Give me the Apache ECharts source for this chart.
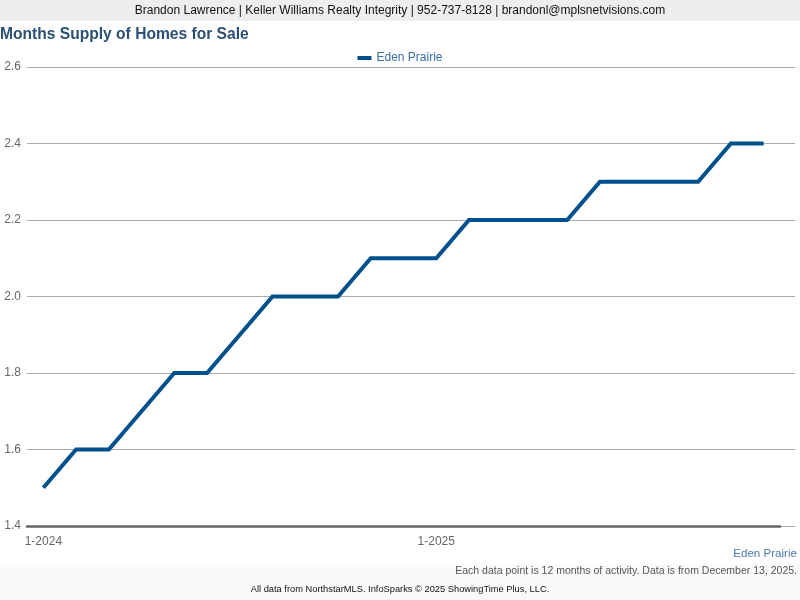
<!DOCTYPE html>
<html><head><meta charset="utf-8">
<script src="https://cdn.jsdelivr.net/npm/echarts@6/dist/echarts.min.js"></script>
<style>html,body{margin:0;padding:0;background:#fff}#c{width:800px;height:600px}</style>
</head><body><div id="c"></div>
<script>
const categories = ["1-2024","2-2024","3-2024","4-2024","5-2024","6-2024","7-2024","8-2024","9-2024","10-2024","11-2024","12-2024",
  "1-2025","2-2025","3-2025","4-2025","5-2025","6-2025","7-2025","8-2025","9-2025","10-2025","11-2025"];
const edenPrairie = [1.5,1.6,1.6,1.7,1.8,1.8,1.9,2.0,2.0,2.0,2.1,2.1,2.1,2.2,2.2,2.2,2.2,2.3,2.3,2.3,2.3,2.4,2.4];
const yTicks = {min:1.4, max:2.6, interval:0.2};
const FONT = '"Liberation Sans", Arial, sans-serif';

const chart = echarts.init(document.getElementById('c'), null, {renderer:'canvas'});
const showLabel = (i) => i % 12 === 0;
chart.setOption({
  animation:false,
  textStyle:{fontFamily:FONT},
  graphic:[
    {type:'rect', left:0, top:0, z:-10, shape:{width:800, height:21}, style:{fill:'#eeeeee'}},
    {type:'rect', left:0, top:564, z:-10, shape:{width:800, height:36}, style:{fill:'#fafafa'}},
    {type:'text', left:'center', top:5, style:{text:'Brandon Lawrence | Keller Williams Realty Integrity | 952-737-8128 | brandonl@mplsnetvisions.com', font:'12px '+FONT, fill:'#111'}},
    {type:'text', left:0, top:27, style:{text:'Months Supply of Homes for Sale', font:'bold 15.6px '+FONT, fill:'#2c4f74'}},
    {type:'text', right:3, top:548, style:{text:'Eden Prairie', font:'11.6px '+FONT, fill:'#4a78aa'}},
    {type:'text', right:3, top:566, style:{text:'Each data point is 12 months of activity. Data is from December 13, 2025.', font:'10.5px '+FONT, fill:'#555'}},
    {type:'text', left:'center', top:585, style:{text:'All data from NorthstarMLS. InfoSparks \u00a9 2025 ShowingTime Plus, LLC.', font:'9.3px '+FONT, fill:'#111'}}
  ],
  legend:{top:47, left:'center', icon:'rect', itemWidth:14, itemHeight:4, itemGap:5,
    textStyle:{color:'#3a6ea5', fontSize:12, fontFamily:FONT}, data:['Eden Prairie']},
  grid:[
    {left:27, right:5, top:67, bottom:74},
    {left:27, right:20, top:67, bottom:74}
  ],
  xAxis:[
    {gridIndex:0, type:'value', min:0, max:1, show:false},
    {gridIndex:1, type:'category', data:categories, boundaryGap:true,
      axisLine:{lineStyle:{color:'#666', width:2.5}},
      axisTick:{alignWithLabel:true, interval:showLabel, length:5, lineStyle:{color:'#555', width:2}},
      axisLabel:{interval:showLabel, color:'#666', fontSize:12, margin:10, fontFamily:FONT}}
  ],
  yAxis:[
    {gridIndex:0, type:'value', min:yTicks.min, max:yTicks.max, interval:yTicks.interval,
      axisLine:{show:false}, axisTick:{show:false},
      axisLabel:{color:'#666', fontSize:12, margin:6, fontFamily:FONT, padding:[3,0,0,0], formatter:v=>v.toFixed(1)},
      splitLine:{lineStyle:{color:'#aaa', width:1}}},
    {gridIndex:1, type:'value', min:yTicks.min, max:yTicks.max, interval:yTicks.interval, show:false, splitLine:{show:false}}
  ],
  series:[{
    name:'Eden Prairie', type:'line', xAxisIndex:1, yAxisIndex:1, data:edenPrairie,
    showSymbol:false, symbol:'none', lineStyle:{width:4, color:'#00508c', join:'miter'}, itemStyle:{color:'#00508c'}
  }]
});
</script></body></html>
